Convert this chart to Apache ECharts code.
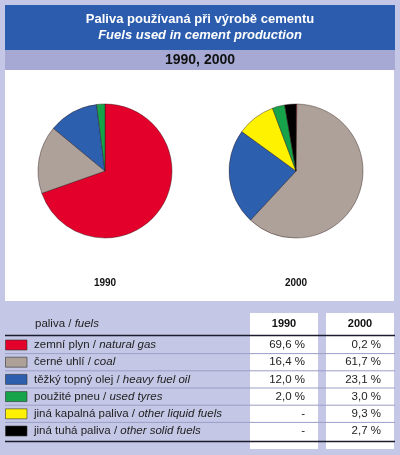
<!DOCTYPE html>
<html>
<head>
<meta charset="utf-8">
<script src="https://cdn.jsdelivr.net/npm/echarts@6/dist/echarts.min.js"></script>
<style>
  html, body { margin: 0; padding: 0; background: #c4c7e5; }
  #chart { width: 400px; height: 455px; }
</style>
</head>
<body>
<div id="chart"></div>
<script>
// data
const fuelsCz = ['zemní plyn', 'černé uhlí', 'těžký topný olej', 'použité pneu', 'jiná kapalná paliva', 'jiná tuhá paliva'];
const fuelsEn = ['natural gas', 'coal', 'heavy fuel oil', 'used tyres', 'other liquid fuels', 'other solid fuels'];
const fuelColors = ['#e3002b', '#ada19a', '#2c5fae', '#17a34a', '#fff200', '#000000'];
const years = ['1990', '2000'];
const values1990 = [69.6, 16.4, 12.0, 2.0, null, null];
const values2000 = [0.2, 61.7, 23.1, 3.0, 9.3, 2.7];
// order of slices clockwise in the pies
const pieOrder = [0, 1, 2, 4, 3, 5];

const font = '"Liberation Sans", Arial, sans-serif';
const myChart = echarts.init(document.getElementById('chart'));

function pieData(values) {
  return pieOrder
    .filter(i => values[i] != null)
    .map(i => ({ name: fuelsCz[i], value: values[i], itemStyle: { color: fuelColors[i] } }));
}

function fmt(v) {
  return v == null ? '-' : v.toFixed(1).replace('.', ',') + ' %';
}

const graphic = [];
// frame
graphic.push({ type: 'rect', shape: { x: 5, y: 5, width: 390, height: 45 }, style: { fill: '#2b5cad' }, z: 0 });
graphic.push({ type: 'rect', shape: { x: 5, y: 50, width: 390, height: 20 }, style: { fill: '#a5a9d4' }, z: 0 });
graphic.push({ type: 'rect', shape: { x: 5, y: 70, width: 389, height: 231 }, style: { fill: '#ffffff' }, z: 0 });
graphic.push({ type: 'text', x: 200, y: 19.5, style: { text: 'Paliva používaná při výrobě cementu', fill: '#fff', font: 'bold 13px ' + font, align: 'center', verticalAlign: 'middle' } });
graphic.push({ type: 'text', x: 200, y: 35.5, style: { text: 'Fuels used in cement production', fill: '#fff', font: 'italic bold 13px ' + font, align: 'center', verticalAlign: 'middle' } });
graphic.push({ type: 'text', x: 200, y: 60, style: { text: years.join(', '), fill: '#111', font: 'bold 14px ' + font, align: 'center', verticalAlign: 'middle' } });
graphic.push({ type: 'text', x: 105, y: 283, style: { text: years[0], fill: '#111', font: 'bold 10px ' + font, align: 'center', verticalAlign: 'middle' } });
graphic.push({ type: 'text', x: 296, y: 283, style: { text: years[1], fill: '#111', font: 'bold 10px ' + font, align: 'center', verticalAlign: 'middle' } });

// table
graphic.push({ type: 'rect', shape: { x: 250, y: 313, width: 68, height: 136 }, style: { fill: '#ffffff' }, z: 0 });
graphic.push({ type: 'rect', shape: { x: 326, y: 313, width: 68, height: 136 }, style: { fill: '#ffffff' }, z: 0 });
graphic.push({ type: 'text', x: 35, y: 324, style: { text: '{a|paliva / }{b|fuels}', verticalAlign: 'middle', rich: { a: { font: '11.5px ' + font, fill: '#222' }, b: { font: 'italic 11.5px ' + font, fill: '#222' } } } });
graphic.push({ type: 'text', x: 284, y: 324, style: { text: years[0], fill: '#111', font: 'bold 11px ' + font, align: 'center', verticalAlign: 'middle' } });
graphic.push({ type: 'text', x: 360, y: 324, style: { text: years[1], fill: '#111', font: 'bold 11px ' + font, align: 'center', verticalAlign: 'middle' } });
graphic.push({ type: 'line', shape: { x1: 5, y1: 335.5, x2: 395, y2: 335.5 }, style: { stroke: '#1c1c30', lineWidth: 1.5 }, z: 5 });

const rowH = 17.2;
fuelsCz.forEach((name, i) => {
  const cy = 345 + i * rowH;
  graphic.push({ type: 'rect', shape: { x: 5.5, y: cy - 5, width: 21.5, height: 10 }, style: { fill: fuelColors[i], stroke: '#333', lineWidth: 0.6 }, z: 3 });
  graphic.push({ type: 'text', x: 34, y: cy, style: { text: '{a|' + name + ' / }{b|' + fuelsEn[i] + '}', verticalAlign: 'middle', rich: { a: { font: '11.5px ' + font, fill: '#222' }, b: { font: 'italic 11.5px ' + font, fill: '#222' } } }, z: 3 });
  graphic.push({ type: 'text', x: 305, y: cy, style: { text: fmt(values1990[i]), fill: '#222', font: '11.5px ' + font, align: 'right', verticalAlign: 'middle' }, z: 3 });
  graphic.push({ type: 'text', x: 381, y: cy, style: { text: fmt(values2000[i]), fill: '#222', font: '11.5px ' + font, align: 'right', verticalAlign: 'middle' }, z: 3 });
  if (i < fuelsCz.length - 1) {
    graphic.push({ type: 'line', shape: { x1: 5, y1: cy + rowH / 2, x2: 395, y2: cy + rowH / 2 }, style: { stroke: '#9b9ec6', lineWidth: 1 }, z: 2 });
  }
});
graphic.push({ type: 'line', shape: { x1: 5, y1: 441.5, x2: 395, y2: 441.5 }, style: { stroke: '#1c1c30', lineWidth: 1.5 }, z: 5 });

const pieBase = {
  type: 'pie',
  radius: 67,
  startAngle: 90,
  clockwise: true,
  label: { show: false },
  labelLine: { show: false },
  silent: true,
  animation: false,
  itemStyle: { borderColor: 'rgba(40,20,20,0.7)', borderWidth: 0.6 },
  z: 4
};

myChart.setOption({
  backgroundColor: '#c4c7e5',
  animation: false,
  graphic: graphic,
  series: [
    Object.assign({}, pieBase, { name: years[0], center: [105, 171], data: pieData(values1990) }),
    Object.assign({}, pieBase, { name: years[1], center: [296, 171], data: pieData(values2000) })
  ]
});
</script>
</body>
</html>
